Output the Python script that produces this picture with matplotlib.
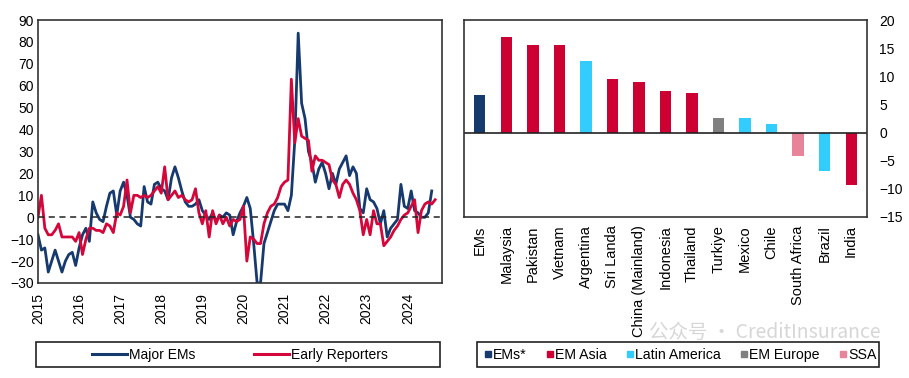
import numpy as np
import matplotlib.pyplot as plt
from matplotlib.patches import Rectangle
from matplotlib.lines import Line2D

plt.rcParams['font.family'] = ['Liberation Sans', 'DejaVu Sans']

# Left panel: monthly readings, Jan 2015 onwards
major_ems = [
    -8, -15, -14, -25, -20, -15, -20, -25, -20, -17, -16, -22,   # 2015
    -14, -8, -5, -11, 7, 2, -1, -2, 5, 11, 12, 1,                # 2016
    12, 16, 10, 0, -1, -3, -4, 14, 7, 6, 15, 16,                 # 2017
    13, 12, 8, 18, 23, 18, 12, 7, 5, 5, 6, 8,                    # 2018
    3, 1, -1, 2, -2, 1, 0, 2, 1, -8, -2, 2,                      # 2019
    5, 9, 4, -12, -30, -30, -12, -7, -2, 3, 6, 6,                # 2020
    6, 3, 10, 35, 84, 52, 45, 30, 25, 16, 22, 25,                # 2021
    20, 13, 20, 15, 22, 25, 28, 19, 23, 20, 4, 2,                # 2022
    13, 8, 7, 4, -3, 3, -9, -5, -3, -1, 15, 5,                   # 2023
    4, 12, 3, 2, 0, 0, 2, 12,                                    # 2024
]
early_reporters = [
    0, 10, -5, -8, -8, -6, -3, -9, -9, -9, -9, -11,
    -7, -17, -10, -5, -5, -6, -6, -7, -3, -4, -7, 2,
    1, 5, 17, 2, 10, 10, 9, 10, 9, 10, 12, 14,
    11, 23, 8, 10, 12, 9, 10, 8, 7, 8, 13, 2,
    -3, 3, -9, 3, -3, 1, -3, 0, -4, -1, -2, -1,
    5, -20, -9, -10, -12, -12, -3, 2, 5, 6, 9, 14,
    16, 17, 63, 34, 45, 37, 36, 35, 21, 28, 26, 26,
    25, 24, 17, 15, 9, 15, 17, 15, 11, 8, 3, -8,
    -1, -8, 3, -3, -3, -13, -11, -9, -6, -4, -1, 1,
    2, 5, 8, -7, 3, 6, 7, 6, 8,
]
years = list(range(2015, 2025))

# Right panel
countries = ['EMs', 'Malaysia', 'Pakistan', 'Vietnam', 'Argentina', 'Sri Landa',
             'China (Mainland)', 'Indonesia', 'Thailand', 'Turkiye', 'Mexico',
             'Chile', 'South Africa', 'Brazil', 'India']
values = [6.7, 17.0, 15.6, 15.6, 12.8, 9.5, 9.0, 7.3, 7.0, 2.5, 2.5, 1.5, -4.2, -6.8, -9.3]
groups = ['EMs*', 'EM Asia', 'EM Asia', 'EM Asia', 'Latin America', 'EM Asia',
          'EM Asia', 'EM Asia', 'EM Asia', 'EM Europe', 'Latin America',
          'Latin America', 'SSA', 'Latin America', 'EM Asia']
group_colors = {'EMs*': '#173A6E', 'EM Asia': '#CC0033', 'Latin America': '#33CCFF',
                'EM Europe': '#808080', 'SSA': '#E8849A'}

navy, red = '#173A6E', '#D4063A'

fig = plt.figure(figsize=(9.09, 3.78), dpi=100)
W, H = 909, 378

def box(x0, y0, x1, y1):
    return [x0 / W, 1 - y1 / H, (x1 - x0) / W, (y1 - y0) / H]

# ---- left: line chart
ax1 = fig.add_axes(box(38, 20, 442, 283))
xb = 2015 + np.arange(len(major_ems)) / 12
xr = 2015 + np.arange(len(early_reporters)) / 12
ax1.plot(xb, major_ems, color=navy, lw=2)
ax1.plot(xr, early_reporters, color=red, lw=2)
ax1.axhline(0, color='#222222', lw=1.1, ls=(0, (4, 3)))
ax1.set_xlim(2015, 2015 + 118 / 12)
ax1.set_ylim(-30, 90)
ax1.set_yticks(range(-30, 91, 10))
ax1.set_xticks(years)
ax1.set_xticklabels([str(y) for y in years], rotation=90)
ax1.tick_params(axis='both', length=0, labelsize=10)
ax1.tick_params(axis='x', pad=7)
ax1.tick_params(axis='y', pad=3)
for s in ax1.spines.values():
    s.set_color('#333333')
    s.set_linewidth(1.2)

# ---- right: bar chart
ax2 = fig.add_axes(box(464, 20, 867, 217))
xpos = np.arange(len(countries))
ax2.bar(xpos, values, width=0.42, color=[group_colors[g] for g in groups])
ax2.axhline(0, color='#222222', lw=1.2)
ax2.set_xlim(-0.6, len(countries) - 0.4)
ax2.set_ylim(-15, 20)
ax2.set_yticks(range(-15, 21, 5))
ax2.yaxis.tick_right()
ax2.set_xticks(xpos)
ax2.set_xticklabels(countries, rotation=90, fontsize=10.5)
ax2.tick_params(axis='both', length=0)
ax2.tick_params(axis='y', labelsize=10, pad=9)
ax2.tick_params(axis='x', pad=6)
for s in ax2.spines.values():
    s.set_color('#333333')
    s.set_linewidth(1.2)

# ---- legends with square frames
fig.add_artist(Rectangle((36 / W, 1 - 367 / H), 404 / W, 25 / H, transform=fig.transFigure,
                         fill=False, edgecolor='#222222', lw=1.2))
fig.add_artist(Rectangle((477 / W, 1 - 367 / H), 402 / W, 25 / H, transform=fig.transFigure,
                         fill=False, edgecolor='#222222', lw=1.2))

h1 = [Line2D([], [], color=navy, lw=2.2), Line2D([], [], color=red, lw=2.2)]
fig.legend(h1, ['Major EMs', 'Early Reporters'], loc='center',
           bbox_to_anchor=(240 / W, 1 - 355 / H), ncol=2, frameon=False,
           fontsize=10, handlelength=2.5, handletextpad=0.15, columnspacing=4.2)

names = list(group_colors)
h2 = [Line2D([], [], ls='', marker='s', ms=5, color=group_colors[n]) for n in names]
fig.legend(h2, names, loc='center', bbox_to_anchor=(680 / W, 1 - 355 / H), ncol=5,
           frameon=False, fontsize=10.2, handlelength=0.6, handletextpad=0.1,
           columnspacing=1.3)

# watermark
fig.text(765 / W, 1 - 332 / H, '公众号 · CreditInsurance', ha='center', va='center',
         fontsize=14, color='#9A9A9A', alpha=0.4,
         family=['Noto Sans CJK SC', 'DejaVu Sans'])

fig.savefig('out.png', dpi=100)
